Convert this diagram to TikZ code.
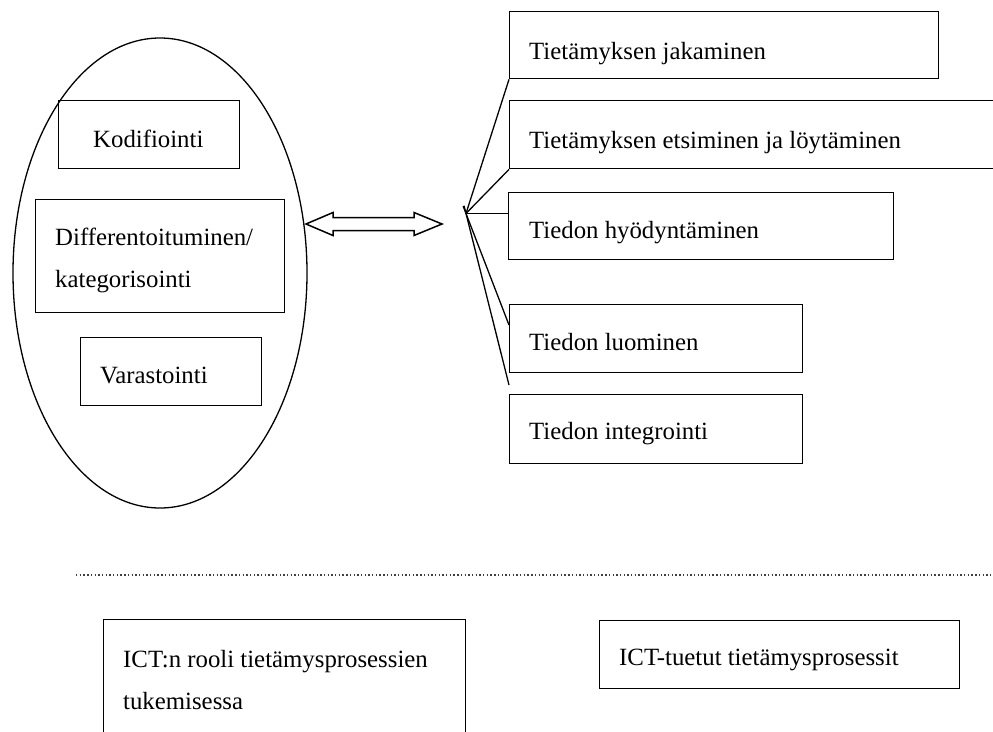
\documentclass[tikz,border=0pt]{standalone}
\usepackage{fontspec}
\setmainfont{Liberation Serif}
\usetikzlibrary{shapes.geometric,calc}
\begin{document}
\begin{tikzpicture}[x=1pt,y=-1pt,
  box/.style={draw, line width=1.4pt, anchor=north west, inner sep=0pt},
  txt/.style={anchor=base west, inner sep=0pt, font=\fontsize{24.8}{42}\selectfont, align=left},
  wire/.style={line width=1.3pt}]
\useasboundingbox (0,0) rectangle (993,731);

% knowledge store (left ellipse) and its three activities
\node[draw, line width=1.3pt, ellipse, minimum width=294pt, minimum height=470pt, inner sep=0pt] (store) at (160,273) {};
\node[box, minimum width=181pt, minimum height=68pt] (kod) at (58,100) {};
\node[box, minimum width=249pt, minimum height=113pt] (dif) at (35,199) {};
\node[box, minimum width=181pt, minimum height=68pt] (var) at (80,337) {};
\node[txt] at ([xshift=35pt,yshift=-47pt]kod.north west) {Kodifiointi};
% two-line labels: the base anchor sits on the last line
\node[txt] at ([xshift=20pt,yshift=-88pt]dif.north west) {Differentoituminen/\\kategorisointi};
\node[txt] at ([xshift=20pt,yshift=-46pt]var.north west) {Varastointi};

% process boxes on the right
\node[box, minimum width=429pt, minimum height=67pt] (b1) at (509,11) {};
\node[box, minimum width=600pt, minimum height=68pt] (b2) at (509,100) {};
\node[box, minimum width=385pt, minimum height=67pt] (b3) at (508,192) {};
\node[box, minimum width=293pt, minimum height=68pt] (b4) at (509,304) {};
\node[box, minimum width=293pt, minimum height=69pt] (b5) at (509,394) {};
\node[txt] at ([xshift=20pt,yshift=-48pt]b1.north west) {Tietämyksen jakaminen};
\node[txt] at ([xshift=20pt,yshift=-48pt]b2.north west) {Tietämyksen etsiminen ja löytäminen};
\node[txt] at ([xshift=21pt,yshift=-46pt]b3.north west) {Tiedon hyödyntäminen};
\node[txt] at ([xshift=20pt,yshift=-46pt]b4.north west) {Tiedon luominen};
\node[txt] at ([xshift=20pt,yshift=-45pt]b5.north west) {Tiedon integrointi};

% fan of lines from the hub
\coordinate (hub) at (466,213.5);
\coordinate (tail) at (509,385);
\coordinate (b4in) at ([yshift=-21pt]b4.north west);
\draw[wire] (hub) -- (b1.south west);
\draw[wire] (hub) -- (b2.south west);
\draw[line width=1.1pt] (hub) -- (hub -| b3.west);
\draw[wire] ($(hub)!-8pt!(b4in)$) -- (b4in);
\draw[wire] ($(hub)!-8pt!(tail)$) -- (tail);

% two-headed block arrow between the store and the hub
\coordinate (arrL) at (306,224);
\coordinate (arrR) at (442,224);
\draw[line width=1.5pt, line join=miter]
  (arrL) -- ++(27,-11.5) -- ++(0,5) -- ++(81,0) -- ++(0,-5) -- (arrR)
  -- ++(-28,11.5) -- ++(0,-5) -- ++(-81,0) -- ++(0,5) -- cycle;

% dotted separator
\coordinate (sepL) at (76,575);
\coordinate (sepR) at (993,575);
\draw[line width=1.2pt, black!75, dash pattern=on 1.4pt off 2.3pt] (sepL) -- (sepR);

% ICT boxes
\node[box, minimum width=362pt, minimum height=160pt] (ictA) at (103,619) {};
\node[box, minimum width=360pt, minimum height=68pt] (ictB) at (599,620) {};
\node[txt] at ([xshift=20pt,yshift=-90pt]ictA.north west) {ICT:n rooli tietämysprosessien\\tukemisessa};
\node[txt] at ([xshift=20pt,yshift=-45pt]ictB.north west) {ICT-tuetut tietämysprosessit};
\end{tikzpicture}
\end{document}
